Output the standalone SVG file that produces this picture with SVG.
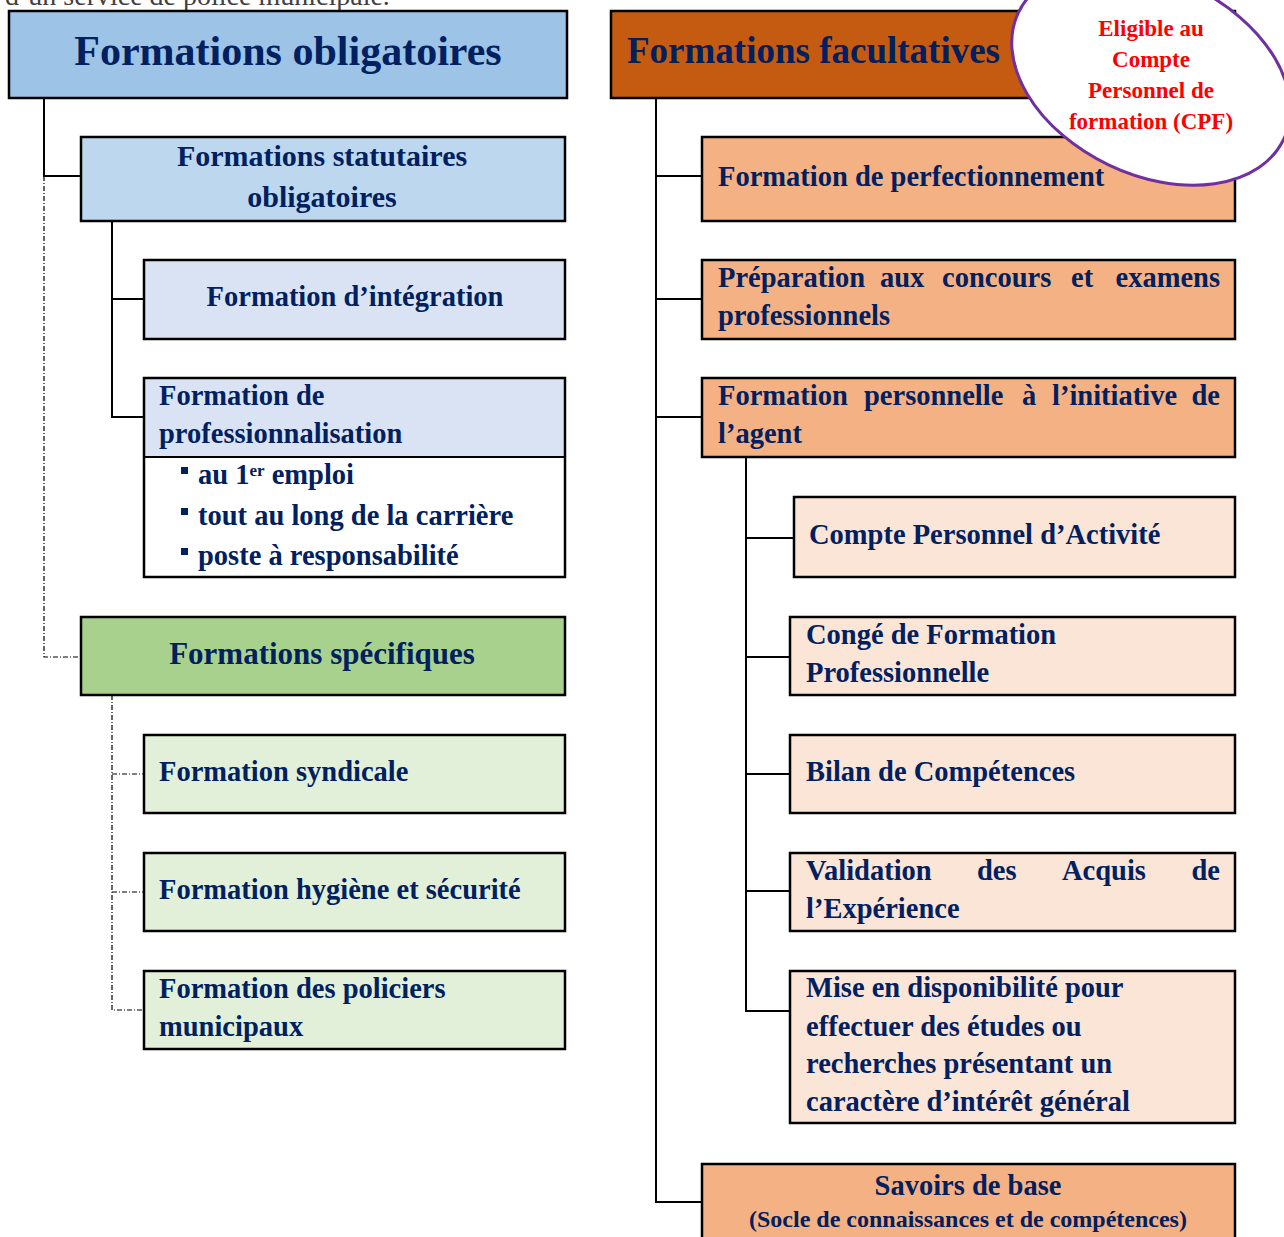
<svg xmlns="http://www.w3.org/2000/svg" width="1284" height="1237" viewBox="0 0 1284 1237">
<style>
.box{stroke:#000;stroke-width:2.5}
.t{font-family:"Liberation Serif","Times New Roman",serif;font-weight:bold;fill:#002060;font-size:28.5px}
.c{text-anchor:middle}
.sol{fill:none;stroke:#000;stroke-width:2}
.dd{fill:none;stroke:#000;stroke-width:1.2;stroke-dasharray:5 2 1 2}
.b1{fill:#9dc3e6}.b2{fill:#bdd7ee}.b3{fill:#dae3f3}.g1{fill:#a9d18e}.g2{fill:#e2f0d9}
.o0{fill:#c55a11}.o1{fill:#f4b183}.o2{fill:#fbe5d6}
.bul{fill:#002060}
</style>
<rect width="1284" height="1237" fill="#fff"/>
<text x="5" y="5" style="font-family:'Liberation Serif',serif;font-size:28px;fill:#404040">d’un service de police municipale.</text>

<g id="connectors">
<path class="sol" d="M44 98V176H81"/>
<path class="dd" d="M44 176V657H81"/>
<path class="sol" d="M112 221V417H144M112 299H144"/>
<path class="dd" d="M112 695V1010H144M112 774H144M112 892H144"/>
<path class="sol" d="M656 98V1202H702M656 176H702M656 299H702M656 417H702"/>
<path class="sol" d="M746 457V1011H790M746 538H794M746 657H790M746 774H790M746 891H790"/>
</g>

<g id="obligatoires">
<rect class="box b1" x="9" y="11" width="558" height="87"/>
<text class="t c" x="288" y="65" style="font-size:42px">Formations obligatoires</text>
</g>
<g id="statutaires">
<rect class="box b2" x="81" y="137" width="484" height="84"/>
<text class="t c" x="322" y="166" style="font-size:30px">Formations statutaires</text>
<text class="t c" x="322" y="207" style="font-size:30px">obligatoires</text>
</g>
<g id="integration">
<rect class="box b3" x="144" y="260" width="421" height="79"/>
<text class="t c" x="355" y="306">Formation d’intégration</text>
</g>
<g id="professionnalisation">
<rect class="b3" x="144" y="378" width="421" height="79"/>
<rect class="box" x="144" y="378" width="421" height="199" fill="none"/>
<line x1="144" y1="457" x2="565" y2="457" stroke="#000" stroke-width="2"/>
<text class="t" x="159" y="405">Formation de</text>
<text class="t" x="159" y="443">professionnalisation</text>
<rect class="bul" x="181" y="467" width="7" height="7"/>
<rect class="bul" x="181" y="508" width="7" height="7"/>
<rect class="bul" x="181" y="548" width="7" height="7"/>
<text class="t" x="198" y="484">au 1<tspan dy="-8" style="font-size:17px">er</tspan><tspan dy="8"> emploi</tspan></text>
<text class="t" x="198" y="525">tout au long de la carrière</text>
<text class="t" x="198" y="565">poste à responsabilité</text>
</g>
<g id="specifiques">
<rect class="box g1" x="81" y="617" width="484" height="78"/>
<text class="t c" x="322" y="664" style="font-size:31px">Formations spécifiques</text>
</g>
<g id="syndicale">
<rect class="box g2" x="144" y="735" width="421" height="78"/>
<text class="t" x="159" y="781">Formation syndicale</text>
</g>
<g id="hygiene">
<rect class="box g2" x="144" y="853" width="421" height="78"/>
<text class="t" x="159" y="899">Formation hygiène et sécurité</text>
</g>
<g id="policiers">
<rect class="box g2" x="144" y="971" width="421" height="78"/>
<text class="t" x="159" y="998">Formation des policiers</text>
<text class="t" x="159" y="1036">municipaux</text>
</g>

<g id="facultatives">
<rect class="box o0" x="611" y="11" width="624" height="87"/>
<text class="t" x="627" y="63" style="font-size:37px">Formations facultatives</text>
</g>
<g id="perfectionnement">
<rect class="box o1" x="702" y="137" width="533" height="84"/>
<text class="t" x="718" y="186">Formation de perfectionnement</text>
</g>
<g id="cpf">
<ellipse cx="1151" cy="76" rx="147" ry="98.5" transform="rotate(25.6 1151 76)" fill="#fff" stroke="#7030a0" stroke-width="3"/>
<g style="font-family:'Liberation Serif',serif;font-weight:bold;font-size:23px;fill:#ff0000;text-anchor:middle">
<text x="1151" y="36">Eligible au</text>
<text x="1151" y="67">Compte</text>
<text x="1151" y="98">Personnel de</text>
<text x="1151" y="129">formation (CPF)</text>
</g>
</g>
<g id="preparation">
<rect class="box o1" x="702" y="260" width="533" height="79"/>
<text class="t" y="287"><tspan x="718">Préparation</tspan><tspan x="880">aux</tspan><tspan x="942">concours</tspan><tspan x="1071">et</tspan><tspan x="1220" text-anchor="end">examens</tspan></text>
<text class="t" x="718" y="325">professionnels</text>
</g>
<g id="personnelle">
<rect class="box o1" x="702" y="378" width="533" height="79"/>
<text class="t" y="405"><tspan x="718">Formation</tspan><tspan x="864">personnelle</tspan><tspan x="1022">à</tspan><tspan x="1052">l’initiative</tspan><tspan x="1220" text-anchor="end">de</tspan></text>
<text class="t" x="718" y="443">l’agent</text>
</g>
<g id="cpa">
<rect class="box o2" x="794" y="497" width="441" height="80"/>
<text class="t" x="809" y="544">Compte Personnel d’Activité</text>
</g>
<g id="conge">
<rect class="box o2" x="790" y="617" width="445" height="78"/>
<text class="t" x="806" y="644">Congé de Formation</text>
<text class="t" x="806" y="682">Professionnelle</text>
</g>
<g id="bilan">
<rect class="box o2" x="790" y="735" width="445" height="78"/>
<text class="t" x="806" y="781">Bilan de Compétences</text>
</g>
<g id="vae">
<rect class="box o2" x="790" y="853" width="445" height="78"/>
<text class="t" y="880"><tspan x="806">Validation</tspan><tspan x="977">des</tspan><tspan x="1062">Acquis</tspan><tspan x="1220" text-anchor="end">de</tspan></text>
<text class="t" x="806" y="918">l’Expérience</text>
</g>
<g id="disponibilite">
<rect class="box o2" x="790" y="971" width="445" height="152"/>
<text class="t" x="806" y="997">Mise en disponibilité pour</text>
<text class="t" x="806" y="1036">effectuer des études ou</text>
<text class="t" x="806" y="1073">recherches présentant un</text>
<text class="t" x="806" y="1111">caractère d’intérêt général</text>
</g>
<g id="savoirs">
<rect class="box o1" x="702" y="1164" width="533" height="80"/>
<text class="t c" x="968" y="1195">Savoirs de base</text>
<text class="t c" x="968" y="1227" style="font-size:24px">(Socle de connaissances et de compétences)</text>
</g>
</svg>
